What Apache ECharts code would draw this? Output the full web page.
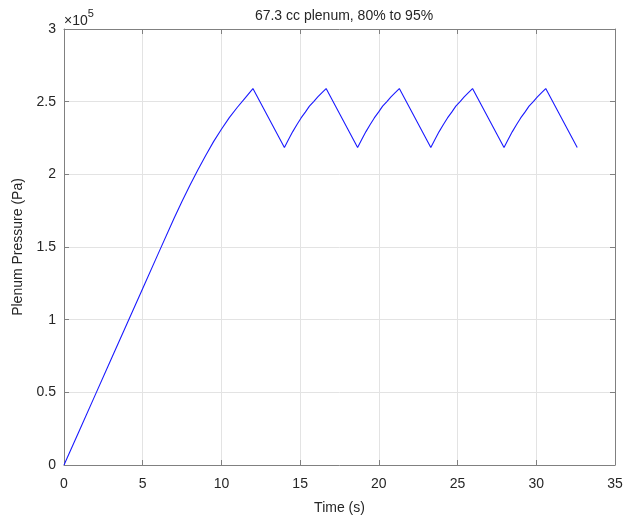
<!DOCTYPE html>
<html>
<head>
<meta charset="utf-8">
<script src="https://cdn.jsdelivr.net/npm/echarts@6/dist/echarts.min.js"></script>
<style>
    html, body { margin: 0; padding: 0; background: #fff; }
    #chart { width: 626px; height: 521px; }
</style>
</head>
<body>
<div id="chart"></div>
<script>
// time (s) and plenum pressure (Pa)
const timeS = [
    0, 1, 2, 3, 4, 5, 6, 7, 7.5, 8, 8.5, 9, 9.5, 10, 10.5, 11, 11.5, 12.0,
    14.0, 14.27, 14.53, 14.8, 15.06, 15.33, 15.59, 15.86, 16.12, 16.39, 16.65,
    18.65, 18.92, 19.18, 19.45, 19.71, 19.98, 20.24, 20.51, 20.77, 21.04, 21.3,
    23.3, 23.57, 23.83, 24.1, 24.36, 24.63, 24.89, 25.16, 25.42, 25.69, 25.95,
    27.95, 28.22, 28.48, 28.75, 29.01, 29.28, 29.54, 29.81, 30.07, 30.34, 30.6,
    32.6
];
const pressurePa = [
    0, 24300, 48600, 72900, 97200, 121500, 145800, 170000, 181500, 192500, 203000, 213000, 222500, 231000, 239000, 246000, 252500, 259000,
    218500, 224200, 229400, 234300, 238800, 242800, 246900, 250100, 253300, 256200, 259000,
    218500, 224200, 229400, 234300, 238800, 242800, 246900, 250100, 253300, 256200, 259000,
    218500, 224200, 229400, 234300, 238800, 242800, 246900, 250100, 253300, 256200, 259000,
    218500, 224200, 229400, 234300, 238800, 242800, 246900, 250100, 253300, 256200, 259000,
    218500
];
const xTicks = [0, 5, 10, 15, 20, 25, 30, 35];
const yTicks = [0, 50000, 100000, 150000, 200000, 250000, 300000];

const axisColor = '#808080';
const textColor = '#262626';
const fontFamily = 'Arial, "Liberation Sans", Helvetica, sans-serif';

let chart = echarts.init(document.getElementById('chart'));

let plainAxis = (pos, withLabels) => ({
    position: pos,
    axisLine: { show: true, onZero: false, lineStyle: { color: axisColor, width: 1 } },
    axisTick: { show: true, inside: true, length: 5, lineStyle: { color: axisColor } },
    axisLabel: { show: withLabels, color: textColor, fontSize: 14, fontFamily: fontFamily },
    splitLine: { show: withLabels, lineStyle: { color: '#e3e3e3', width: 1 } }
});

let xMain = Object.assign(plainAxis('bottom', true), {
    type: 'value', min: 0, max: 35, interval: 5,
    name: 'Time (s)', nameLocation: 'middle', nameGap: 36,
    nameTextStyle: { color: textColor, fontSize: 14, fontFamily: fontFamily }
});
xMain.axisLabel.margin = 12;
xMain.axisLabel.formatter = v => xTicks.includes(v) ? String(v) : '';

let xTop = Object.assign(plainAxis('top', false), { type: 'value', min: 0, max: 35, interval: 5 });

let yMain = Object.assign(plainAxis('left', true), {
    type: 'value', min: 0, max: 300000, interval: 50000,
    name: 'Plenum Pressure (Pa)', nameLocation: 'middle', nameGap: 38,
    nameTextStyle: { color: textColor, fontSize: 14, fontFamily: fontFamily }
});
yMain.axisLabel.margin = 8;
yMain.axisLabel.formatter = v => yTicks.includes(v) ? String(v / 100000) : '';

let yRight = Object.assign(plainAxis('right', false), { type: 'value', min: 0, max: 300000, interval: 50000 });

let option = {
    animation: false,
    backgroundColor: '#ffffff',
    title: {
        text: '67.3 cc plenum, 80% to 95%',
        left: 339, top: 4, textAlign: 'center',
        textStyle: { color: textColor, fontSize: 14, fontWeight: 'normal', fontFamily: fontFamily }
    },
    grid: { left: 64, right: 11, top: 29, bottom: 56, containLabel: false },
    xAxis: [xMain, xTop],
    yAxis: [yMain, yRight],
    graphic: [{
        type: 'text', left: 64, top: 8,
        style: {
            text: '{a|×10}{b|5}',
            rich: {
                a: { fontSize: 14, fontFamily: fontFamily, fill: textColor, padding: [6, 0, 0, 0] },
                b: { fontSize: 11, fontFamily: fontFamily, fill: textColor, verticalAlign: 'top' }
            }
        }
    }],
    series: [{
        type: 'line',
        data: timeS.map((t, i) => [t, pressurePa[i]]),
        showSymbol: false,
        lineStyle: { color: '#1a1aff', width: 1.1 },
        itemStyle: { color: '#1a1aff' }
    }]
};

option && chart.setOption(option);
</script>
</body>
</html>
